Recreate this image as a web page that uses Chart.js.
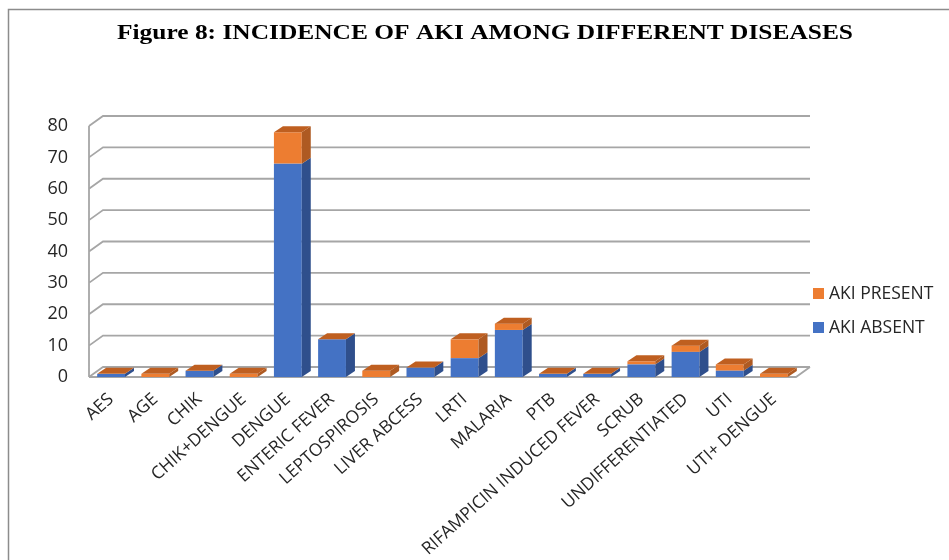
<!DOCTYPE html>
<html>
<head>
<meta charset="utf-8">
<script src="https://cdn.jsdelivr.net/npm/chart.js@4/dist/chart.umd.min.js"></script>
<style>
  html, body { margin: 0; padding: 0; background: #fff; overflow: hidden; }
  #wrap { position: absolute; left: 0; top: 0; width: 949px; height: 560px; }
</style>
</head>
<body>
<div id="wrap"><canvas id="c" width="949" height="560"></canvas></div>
<script>
// Diseases on the category axis
const diseases = [
  'AES', 'AGE', 'CHIK', 'CHIK+DENGUE', 'DENGUE', 'ENTERIC FEVER',
  'LEPTOSPIROSIS', 'LIVER ABCESS', 'LRTI', 'MALARIA', 'PTB',
  'RIFAMPICIN INDUCED FEVER', 'SCRUB', 'UNDIFFERENTIATED', 'UTI', 'UTI+ DENGUE'
];
// Number of patients per disease
const akiAbsent  = [1, 0, 2, 0, 68, 12, 0, 3, 6, 15, 1, 1, 4, 8, 2, 0];
const akiPresent = [0, 1, 0, 1, 10, 0, 2, 0, 6, 2, 0, 0, 1, 2, 2, 1];
// Value axis ticks
const yTicks = [0, 10, 20, 30, 40, 50, 60, 70, 80];
const seriesNames = ['AKI ABSENT', 'AKI PRESENT'];
const titleText = 'Figure 8: INCIDENCE OF AKI AMONG DIFFERENT DISEASES';

const FRONT = ['#4472C4', '#ED7D31'];
const SIDE  = ['#2F4F8C', '#AE5A22'];
const TOP   = '#BF5F20';
const GRID  = '#A6A6A6';
const SANS  = '"Open Sans", "Liberation Sans", sans-serif';

// Depth of the walls and of each column
const WALL_DX = 14, WALL_DY = -10;
const BAR_DX = 9, BAR_DY = -6;

const frame = {
  id: 'frame',
  beforeDraw(chart) {
    const ctx = chart.ctx;
    ctx.save();
    ctx.strokeStyle = '#8c8c8c';
    ctx.lineWidth = 1.5;
    ctx.beginPath();
    ctx.moveTo(8.5, 560);
    ctx.lineTo(8.5, 9.5);
    ctx.lineTo(949, 9.5);
    ctx.stroke();
    // wide bold serif heading, stretched across 117..853
    ctx.fillStyle = '#000';
    ctx.font = 'bold 21px "Liberation Serif", "Times New Roman", serif';
    ctx.textAlign = 'left';
    ctx.textBaseline = 'alphabetic';
    const w = ctx.measureText(titleText).width;
    const target = 736;
    ctx.translate(117, 39);
    ctx.scale(target / w, 1);
    ctx.fillText(titleText, 0, 0);
    ctx.restore();
  }
};

const walls = {
  id: 'walls',
  beforeDatasetsDraw(chart) {
    const ctx = chart.ctx;
    const y = chart.scales.y;
    const a = chart.chartArea;
    ctx.save();
    ctx.strokeStyle = GRID;
    ctx.lineWidth = 1.8;
    ctx.beginPath();
    // front edge of the side wall
    ctx.moveTo(a.left, y.getPixelForValue(yTicks[yTicks.length - 1]));
    ctx.lineTo(a.left, y.getPixelForValue(0));
    yTicks.forEach(v => {
      const py = y.getPixelForValue(v);
      ctx.moveTo(a.left, py);
      ctx.lineTo(a.left + WALL_DX, py + WALL_DY);
      ctx.lineTo(a.right + WALL_DX, py + WALL_DY);
    });
    // floor outline
    const p0 = y.getPixelForValue(0);
    ctx.moveTo(a.left, p0);
    ctx.lineTo(a.right, p0);
    ctx.lineTo(a.right + WALL_DX, p0 + WALL_DY);
    ctx.stroke();
    ctx.restore();
  }
};

const columns3d = {
  id: 'columns3d',
  afterDatasetsDraw(chart) {
    const ctx = chart.ctx;
    ctx.save();
    const n = chart.data.datasets.length;
    for (let d = 0; d < n; d++) {
      const meta = chart.getDatasetMeta(d);
      meta.data.forEach(bar => {
        const p = bar.getProps(['x', 'y', 'base', 'width'], true);
        const r = p.x + p.width / 2;
        const top = Math.min(p.y, p.base), bot = Math.max(p.y, p.base);
        if (bot - top > 0.01) {
          ctx.fillStyle = SIDE[d];
          ctx.beginPath();
          ctx.moveTo(r, top);
          ctx.lineTo(r + BAR_DX, top + BAR_DY);
          ctx.lineTo(r + BAR_DX, bot + BAR_DY);
          ctx.lineTo(r, bot);
          ctx.closePath();
          ctx.fill();
        }
      });
    }
    // lid of each stack
    const last = chart.getDatasetMeta(n - 1);
    last.data.forEach(bar => {
      const p = bar.getProps(['x', 'y', 'width'], true);
      const l = p.x - p.width / 2, r = p.x + p.width / 2;
      ctx.fillStyle = TOP;
      ctx.beginPath();
      ctx.moveTo(l, p.y);
      ctx.lineTo(l + BAR_DX, p.y + BAR_DY);
      ctx.lineTo(r + BAR_DX, p.y + BAR_DY);
      ctx.lineTo(r, p.y);
      ctx.closePath();
      ctx.fill();
    });
    ctx.restore();
  }
};

const sideLegend = {
  id: 'sideLegend',
  afterDraw(chart) {
    const ctx = chart.ctx;
    ctx.save();
    ctx.font = '17.5px ' + SANS;
    ctx.textBaseline = 'middle';
    ctx.textAlign = 'left';
    const rows = [
      { name: seriesNames[1], color: FRONT[1], y: 293 },
      { name: seriesNames[0], color: FRONT[0], y: 327 }
    ];
    rows.forEach(r => {
      ctx.fillStyle = r.color;
      ctx.fillRect(813, r.y - 5, 11, 11);
      ctx.fillStyle = '#262626';
      ctx.fillText(r.name, 829, r.y + 1);
    });
    ctx.restore();
  }
};

new Chart(document.getElementById('c'), {
  type: 'bar',
  data: {
    labels: diseases,
    datasets: [
      { label: seriesNames[0], data: akiAbsent, backgroundColor: FRONT[0], borderWidth: 0 },
      { label: seriesNames[1], data: akiPresent, backgroundColor: FRONT[1], borderWidth: 0 }
    ]
  },
  options: {
    responsive: false,
    animation: false,
    devicePixelRatio: 1,
    layout: { padding: { left: 0, top: 126, right: 153, bottom: 0 } },
    datasets: { bar: { categoryPercentage: 1, barPercentage: 0.63 } },
    plugins: { legend: { display: false }, title: { display: false }, tooltip: { enabled: false } },
    scales: {
      x: {
        stacked: true,
        grid: { display: false, drawTicks: false },
        border: { display: false },
        ticks: {
          autoSkip: false, maxRotation: 42, minRotation: 42, padding: 12,
          color: '#262626',
          font: { family: SANS, size: 17.5 }
        },
        afterFit(s) { s.height = 183; }
      },
      y: {
        stacked: true,
        min: 0, max: 80,
        grid: { display: false, drawTicks: false },
        border: { display: false },
        afterBuildTicks(s) { s.ticks = yTicks.map(v => ({ value: v })); },
        ticks: {
          padding: 21,
          color: '#262626',
          font: { family: SANS, size: 18 }
        },
        afterFit(s) { s.width = 89; }
      }
    }
  },
  plugins: [frame, walls, columns3d, sideLegend]
});
</script>
</body>
</html>
